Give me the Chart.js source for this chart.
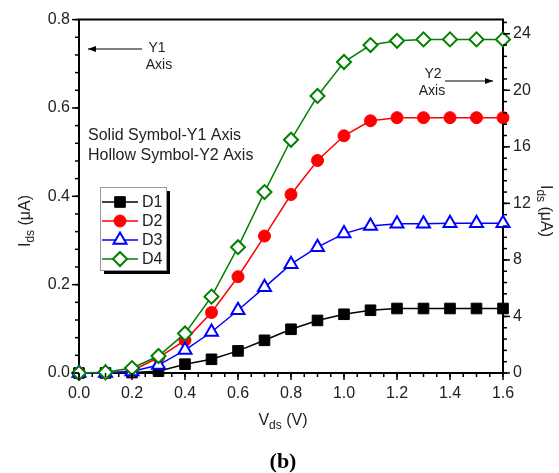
<!DOCTYPE html>
<html><head><meta charset="utf-8">
<script src="https://cdn.jsdelivr.net/npm/chart.js@4/dist/chart.umd.min.js"></script>
<style>html,body{margin:0;padding:0;background:#fff}#wrap{width:559px;height:473px;position:relative}</style>
</head><body><div id="wrap"><canvas id="c"></canvas></div>
<script>
const V = [0.0,0.1,0.2,0.3,0.4,0.5,0.6,0.7,0.8,0.9,1.0,1.1,1.2,1.3,1.4,1.5,1.6];
const D1 = [0,0,0.001,0.004,0.02,0.031,0.05,0.074,0.099,0.119,0.133,0.142,0.146,0.146,0.146,0.146,0.146];
const D2 = [0,0,0.005,0.035,0.074,0.137,0.218,0.31,0.404,0.481,0.537,0.571,0.578,0.578,0.578,0.578,0.578];
const D3 = [0,0,0.1,0.56,1.62,2.9,4.44,6.06,7.7,8.9,9.86,10.4,10.56,10.56,10.6,10.6,10.6];
const D4 = [0,0.05,0.35,1.2,2.8,5.4,8.9,12.8,16.5,19.6,22.0,23.2,23.5,23.6,23.6,23.6,23.6];
const X_TICKS = [0.0,0.2,0.4,0.6,0.8,1.0,1.2,1.4,1.6];
const Y1_TICKS = [0.0,0.2,0.4,0.6,0.8];
const Y2_TICKS = [0,4,8,12,16,20,24];
const SERIES = ['D1','D2','D3','D4'];

const FONT = '"Liberation Sans", Arial, sans-serif';
const TXT = '#222';

function pts(ys){ return V.map((v,i)=>({x:v,y:ys[i]})); }

const datasets = [
  {label:SERIES[0], data:pts(D1), yAxisID:'y', borderColor:'#000', backgroundColor:'#000', pointStyle:'rect', pointRadius:7.5, pointBorderWidth:1, order:4},
  {label:SERIES[1], data:pts(D2), yAxisID:'y', borderColor:'#ff0000', backgroundColor:'#ff0000', pointStyle:'circle', pointRadius:6, pointBorderWidth:1, order:3},
  {label:SERIES[2], data:pts(D3), yAxisID:'y2', borderColor:'#0000ff', backgroundColor:'#ffffff', pointStyle:'triangle', pointRadius:7.5, pointBorderWidth:2, order:2},
  {label:SERIES[3], data:pts(D4), yAxisID:'y2', borderColor:'#008000', backgroundColor:'#ffffff', pointStyle:'rectRot', pointRadius:7, pointBorderWidth:2, order:1}
].map(d=>Object.assign(d,{borderWidth:1.5, tension:0, clip:false, pointBackgroundColor:d.backgroundColor, pointBorderColor:d.borderColor}));

function setTicks(arr){ return function(scale){ scale.ticks = arr.map(v=>({value:v})); }; }

function drawTicks(ctx, scale, step, max, len, dir){
  ctx.save(); ctx.strokeStyle='#000'; ctx.lineWidth=1.5;
  for(let k=0; k*step<=max+1e-9; k++){
    const p=scale.getPixelForValue(k*step);
    ctx.beginPath();
    if(dir==='left'){ctx.moveTo(scale.right,p);ctx.lineTo(scale.right-len,p);}
    else if(dir==='right'){ctx.moveTo(scale.left,p);ctx.lineTo(scale.left+len,p);}
    else {ctx.moveTo(p,scale.top);ctx.lineTo(p,scale.top+len);}
    ctx.stroke();
  }
  ctx.restore();
}

function subText(ctx, parts, x, y, align){
  const big='16px '+FONT, small='12px '+FONT;
  let w=0;
  parts.forEach(p=>{ctx.font=p[1]?small:big; w+=ctx.measureText(p[0]).width;});
  let cx = align==='center'? x-w/2 : x;
  ctx.textAlign='left'; ctx.textBaseline='alphabetic';
  parts.forEach(p=>{ctx.font=p[1]?small:big; ctx.fillText(p[0], cx, y+(p[1]?4:0)); cx+=ctx.measureText(p[0]).width;});
}

function arrow(ctx,x1,y,x2){
  ctx.save(); ctx.strokeStyle='#000'; ctx.fillStyle='#000'; ctx.lineWidth=1.2;
  ctx.beginPath(); ctx.moveTo(x1,y); ctx.lineTo(x2,y); ctx.stroke();
  const d = x2>x1?1:-1;
  ctx.beginPath(); ctx.moveTo(x2,y); ctx.lineTo(x2-d*8,y-3); ctx.lineTo(x2-d*8,y+3); ctx.closePath(); ctx.fill();
  ctx.restore();
}

const decor = {
  id:'decor',
  afterDraw(chart){
    const ctx=chart.ctx, a=chart.chartArea, s=chart.scales;
    ctx.save(); ctx.strokeStyle='#000'; ctx.lineWidth=2;
    ctx.beginPath(); ctx.moveTo(a.left-1,a.top); ctx.lineTo(a.right+1,a.top); ctx.stroke(); ctx.restore();
    drawTicks(ctx, s.x, 0.05, 1.6, 4, 'bottom');
    drawTicks(ctx, s.x, 0.2, 1.6, 7, 'bottom');
    drawTicks(ctx, s.y, 0.04, 0.8, 4, 'left');
    drawTicks(ctx, s.y, 0.2, 0.8, 7, 'left');
    drawTicks(ctx, s.y2, 0.8, 25, 4, 'right');
    drawTicks(ctx, s.y2, 4, 24, 7, 'right');

    ctx.save(); ctx.fillStyle=TXT;
    ctx.font='16px '+FONT; ctx.textAlign='left'; ctx.textBaseline='middle';
    ctx.fillText('Solid Symbol-Y1 Axis', 88, 136);
    ctx.fillText('Hollow Symbol-Y2 Axis', 88, 156);
    ctx.font='14px '+FONT; ctx.textAlign='center';
    ctx.fillText('Y1', 157, 48); ctx.fillText('Axis', 159, 65);
    ctx.fillText('Y2', 433, 74); ctx.fillText('Axis', 432, 91);
    arrow(ctx, 142, 49, 88);
    arrow(ctx, 445, 81, 493);

    subText(ctx, [['V',false],['ds',true],[' (V)',false]], 283, 425, 'center');
    ctx.save(); ctx.translate(30,221); ctx.rotate(-Math.PI/2);
    subText(ctx, [['I',false],['ds',true],[' (\u03bcA)',false]], 0, 0, 'center'); ctx.restore();
    ctx.save(); ctx.translate(541,211); ctx.rotate(Math.PI/2);
    subText(ctx, [['I',false],['ds',true],[' (\u03bcA)',false]], 0, 0, 'center'); ctx.restore();
    ctx.fillStyle='#000'; ctx.font='bold 22px "Liberation Serif", "Times New Roman", serif';
    ctx.textAlign='center'; ctx.textBaseline='middle';
    ctx.fillText('(b)', 283, 462);
    ctx.restore();

    // legend
    const lx=100, ly=187, lw=66, lh=83;
    ctx.save();
    ctx.fillStyle='#000'; ctx.fillRect(lx+4, ly+lh, lw, 4); ctx.fillRect(lx+lw, ly+4, 4, lh);
    ctx.fillStyle='#fff'; ctx.fillRect(lx,ly,lw,lh);
    ctx.strokeStyle='#999'; ctx.lineWidth=1; ctx.strokeRect(lx+0.5,ly+0.5,lw,lh);
    chart.data.datasets.forEach((d,i)=>{
      const yy = ly+15+i*19;
      ctx.strokeStyle=d.borderColor; ctx.lineWidth=1.5;
      ctx.beginPath(); ctx.moveTo(lx+2,yy); ctx.lineTo(lx+38,yy); ctx.stroke();
      ctx.fillStyle=d.pointBackgroundColor; ctx.strokeStyle=d.pointBorderColor; ctx.lineWidth=d.pointBorderWidth;
      Chart.helpers.drawPoint(ctx,{pointStyle:d.pointStyle, rotation:0, radius:d.pointRadius, borderWidth:d.pointBorderWidth}, lx+20, yy);
      ctx.fillStyle=TXT; ctx.font='16px '+FONT; ctx.textAlign='left'; ctx.textBaseline='middle';
      ctx.fillText(d.label, lx+42, yy+1);
    });
    ctx.restore();
  }
};

const axisCommon = {
  grid:{drawOnChartArea:false, drawTicks:false},
  border:{color:'#000', width:2},
};

new Chart(document.getElementById('c'), {
  type:'line',
  data:{datasets},
  options:{
    responsive:true, maintainAspectRatio:false, animation:false,
    layout:{padding:{top:17,left:0,right:0,bottom:0}},
    plugins:{legend:{display:false}, tooltip:{enabled:false}},
    scales:{
      x:Object.assign({type:'linear', min:0, max:1.6, afterBuildTicks:setTicks(X_TICKS),
        afterFit(s){s.height=100;},
        ticks:{padding:11, color:TXT, font:{family:FONT,size:16}, callback:v=>v.toFixed(1), maxRotation:0, autoSkip:false}}, axisCommon),
      y:Object.assign({type:'linear', position:'left', min:0, max:0.8, afterBuildTicks:setTicks(Y1_TICKS),
        afterFit(s){s.width=79;},
        ticks:{padding:9, color:TXT, font:{family:FONT,size:16}, callback:v=>v.toFixed(1)}}, axisCommon),
      y2:Object.assign({type:'linear', position:'right', min:0, max:25, afterBuildTicks:setTicks(Y2_TICKS),
        afterFit(s){s.width=56;},
        ticks:{padding:10, color:TXT, font:{family:FONT,size:16}, callback:v=>String(v)}}, axisCommon)
    }
  },
  plugins:[decor]
});
</script></body></html>
